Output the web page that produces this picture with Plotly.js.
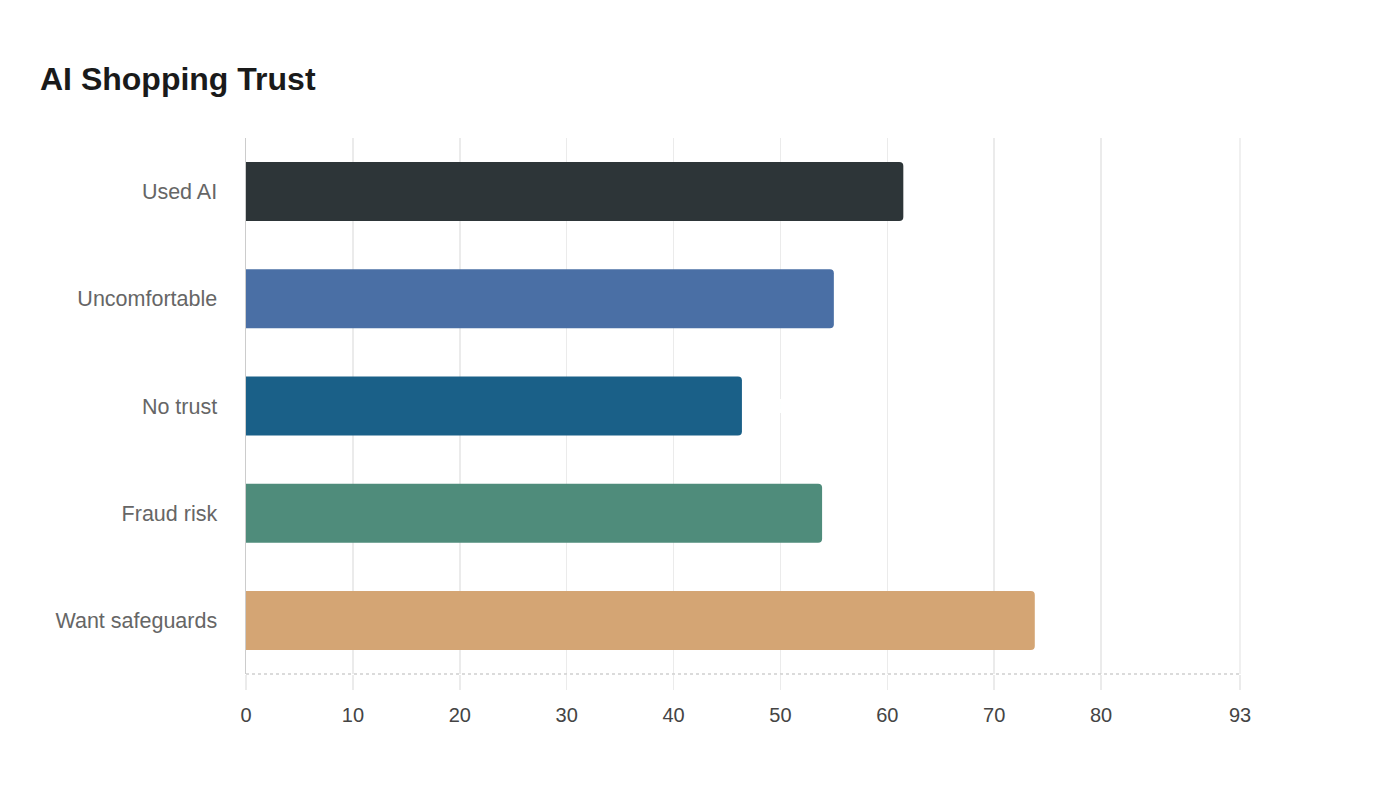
<!DOCTYPE html>
<html>
<head>
<meta charset="utf-8">
<script src="https://cdn.plot.ly/plotly-3.0.1.min.js"></script>
<style>html,body{margin:0;padding:0;background:#fff;}#chart{width:1400px;height:800px;}</style>
</head>
<body>
<div id="chart"></div>
<script>
const categories = ["Used AI", "Uncomfortable", "No trust", "Fraud risk", "Want safeguards"];
const values = [61.5, 55, 46.4, 53.9, 73.8];
const barColors = ["#2d3538", "#4a6fa5", "#1a6088", "#4f8c7b", "#d4a574"];
const tickValues = [0, 10, 20, 30, 40, 50, 60, 70, 80, 93];
const tickLabels = ["0", "10", "20", "30", "40", "50", "60", "70", "80", "93"];

const FONT = "Liberation Sans, Arial, sans-serif";

const trace = {
  type: "bar",
  orientation: "h",
  y: categories,
  x: values,
  marker: {color: barColors, cornerradius: 4},
  text: values.map(v => String(v)),
  textposition: "outside",
  textfont: {color: "#ffffff", size: 20, family: FONT},
  cliponaxis: false,
  hoverinfo: "none"
};

const layout = {
  width: 1400, height: 800,
  paper_bgcolor: "#ffffff", plot_bgcolor: "#ffffff",
  margin: {l: 246, r: 160, t: 138, b: 126, pad: 0},
  font: {family: FONT, color: "#555"},
  title: {text: "<b>AI Shopping Trust</b>", x: 40/1400, xanchor: "left", y: 1 - 79/800, yanchor: "middle",
          font: {size: 32, color: "#1a1a1a", family: FONT}},
  bargap: 0.45,
  showlegend: false,
  xaxis: {
    range: [0, 93],
    tickmode: "array", tickvals: tickValues, ticktext: tickLabels,
    showgrid: true, gridcolor: "#ebebeb", gridwidth: 1.5,
    zeroline: false,
    showline: false,
    ticks: "outside", ticklen: 15, tickcolor: "#ebebeb", tickwidth: 1.5,
    ticklabelstandoff: 8,
    tickfont: {size: 20, color: "#444"},
    fixedrange: true
  },
  yaxis: {
    autorange: "reversed",
    showgrid: false, zeroline: false,
    showline: true, linecolor: "#cccccc", linewidth: 1.5,
    ticks: "", ticklabelstandoff: 23,
    tickfont: {size: 21.5, color: "#666"},
    fixedrange: true
  },
  shapes: [{
    type: "line", xref: "paper", yref: "paper", x0: 0, x1: 1, y0: 0, y1: 0,
    line: {color: "#d0d0d0", width: 1.5, dash: "dot"}, layer: "above"
  }, {
    type: "line", xref: "paper", yref: "paper", x0: 1, x1: 1, y0: 0, y1: 1,
    line: {color: "#ebebeb", width: 1.5}, layer: "below"
  }]
};

Plotly.newPlot("chart", [trace], layout, {displayModeBar: false, staticPlot: true});
</script>
</body>
</html>
